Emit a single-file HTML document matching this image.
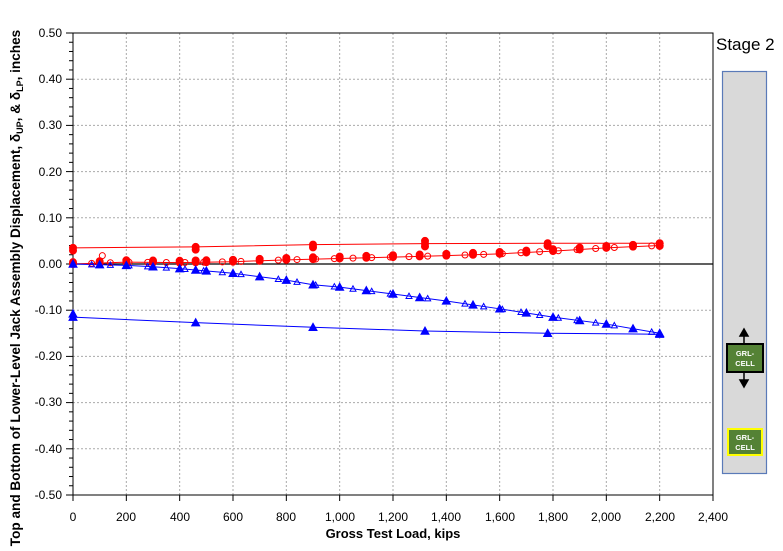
<!DOCTYPE html>
<html><head><meta charset="utf-8"><style>
body{margin:0;background:#fff;}
svg{display:block;font-family:"Liberation Sans",Arial,sans-serif;}
</style></head><body>
<svg id="s" width="783" height="551" viewBox="0 0 783 551" xmlns="http://www.w3.org/2000/svg">
<rect width="783" height="551" fill="#fff"/>
<g id="grid" stroke="#aaa" stroke-dasharray="2,2" stroke-width="1"></g>
<rect x="73" y="33" width="640" height="462" fill="none" stroke="#000"/>
<line x1="73" y1="264" x2="713" y2="264" stroke="#000" stroke-width="1.2"/>
<g id="ticks" stroke="#000"></g>
<g font-size="12" text-anchor="end" fill="#000">
<text x="62" y="37">0.50</text><text x="62" y="83">0.40</text><text x="62" y="129">0.30</text><text x="62" y="176">0.20</text><text x="62" y="222">0.10</text><text x="62" y="268">0.00</text><text x="62" y="314">-0.10</text><text x="62" y="360">-0.20</text><text x="62" y="406">-0.30</text><text x="62" y="453">-0.40</text><text x="62" y="499">-0.50</text>
</g>
<g font-size="12" text-anchor="middle" fill="#000">
<text x="73" y="521">0</text><text x="126" y="521">200</text><text x="180" y="521">400</text><text x="233" y="521">600</text><text x="286" y="521">800</text><text x="340" y="521">1,000</text><text x="393" y="521">1,200</text><text x="446" y="521">1,400</text><text x="500" y="521">1,600</text><text x="553" y="521">1,800</text><text x="606" y="521">2,000</text><text x="660" y="521">2,200</text><text x="713" y="521">2,400</text>
</g>
<text x="393" y="538" font-size="13" font-weight="bold" text-anchor="middle">Gross Test Load, kips</text>
<text transform="translate(20,288) rotate(-90)" font-size="13.6" font-weight="bold" text-anchor="middle">Top and Bottom of Lower-Level Jack Assembly Displacement, δ<tspan font-size="9" dy="3">UP</tspan><tspan dy="-3">, &amp; δ</tspan><tspan font-size="9" dy="3">LP</tspan><tspan dy="-3">, inches</tspan></text>
<g id="data"></g>
<text x="716" y="50" font-size="17">Stage 2</text>
<rect x="722.5" y="71.5" width="44" height="402" fill="#d9d9d9" stroke="#5a7ab8" stroke-width="1.2"/>
<rect x="727" y="344" width="36" height="28" fill="#548235" stroke="#000" stroke-width="2"/>
<text x="745" y="356" font-size="7.5" font-weight="bold" fill="#fff" text-anchor="middle">GRL-</text>
<text x="745" y="366" font-size="7.5" font-weight="bold" fill="#fff" text-anchor="middle">CELL</text>
<path d="M744 343V334M740 336L744 329L748 336Z" stroke="#000" fill="#000" stroke-width="1.5"/>
<path d="M744 373V382M740 380L744 387L748 380Z" stroke="#000" fill="#000" stroke-width="1.5"/>
<rect x="728" y="429" width="34" height="26" fill="#548235" stroke="#ffff00" stroke-width="2"/>
<text x="745" y="440" font-size="7.5" font-weight="bold" fill="#fff" text-anchor="middle">GRL-</text>
<text x="745" y="450" font-size="7.5" font-weight="bold" fill="#fff" text-anchor="middle">CELL</text>
</svg>
<script>
var NS="http://www.w3.org/2000/svg";
function X(v){return 73+v*640/2400}function Y(d){return 264-d*462}
function el(p,t,a){var e=document.createElementNS(NS,t);for(var k in a)e.setAttribute(k,a[k]);p.appendChild(e);return e}
var g=document.getElementById('grid'),tk=document.getElementById('ticks'),D=document.getElementById('data');
for(var i=1;i<12;i++){el(g,'line',{x1:X(i*200),y1:33,x2:X(i*200),y2:495});}
for(var j=0;j<=10;j++){var y=33+j*46.2;if(j!=5&&j>0&&j<10)el(g,'line',{x1:73,y1:y,x2:713,y2:y});}
for(var j=0;j<=50;j++){var y=33+j*9.24;el(tk,'line',{x1:73,y1:y,x2:j%5?69:66,y2:y});}
for(var i=0;i<=12;i++){el(tk,'line',{x1:X(i*200),y1:495,x2:X(i*200),y2:501});}
function interp(pts,x){for(var i=0;i<pts.length-1;i++){if(x>=pts[i][0]&&x<=pts[i+1][0]){var t=(x-pts[i][0])/(pts[i+1][0]-pts[i][0]);return pts[i][1]+t*(pts[i+1][1]-pts[i][1]);}}return pts[pts.length-1][1]}
function line(pts,c){el(D,'polyline',{points:pts.map(function(p){return X(p[0])+','+Y(p[1])}).join(' '),fill:'none',stroke:c,'stroke-width':1});}
var rLow=[[0,0],[200,0.004],[400,0.003],[600,0.005],[800,0.009],[1000,0.012],[1200,0.015],[1400,0.018],[1600,0.022],[1800,0.028],[2000,0.035],[2200,0.04]];
var rUp=[[0,0.035],[460,0.037],[900,0.042],[1320,0.044],[1780,0.045],[2200,0.045]];
var bLow=[[0,0],[200,-0.003],[300,-0.006],[400,-0.01],[600,-0.02],[800,-0.035],[900,-0.045],[1000,-0.05],[1200,-0.065],[1400,-0.08],[1600,-0.097],[1800,-0.115],[2000,-0.13],[2200,-0.15]];
var bUp=[[0,-0.115],[460,-0.127],[900,-0.137],[1320,-0.145],[1780,-0.15],[2200,-0.152]];
line(rLow,'#f00');line(rUp,'#f00');line(bLow,'#00f');line(bUp,'#00f');
function circ(x,d,f){el(D,'circle',{cx:X(x),cy:Y(d),r:f?3.5:3,fill:f?'#f00':'none',stroke:'#f00','stroke-width':1});}
function tri(x,d,f){var cx=X(x),cy=Y(d),s=f?4:3;el(D,'path',{d:'M'+cx+' '+(cy-s)+'L'+(cx+s)+' '+(cy+s*0.8)+'L'+(cx-s)+' '+(cy+s*0.8)+'Z',fill:f?'#00f':'none',stroke:'#00f','stroke-width':1});}
var fx=[0,100,200,300,400,460,500,600,700,800,900,1000,1100,1200,1300,1400,1500,1600,1700,1800,1900,2000,2100,2200];
for(var x=0;x<=2200;x+=70){circ(x,interp(rLow,x),false);tri(x,interp(bLow,x),false);}
circ(110,0.018,false);
fx.forEach(function(x){circ(x,interp(rLow,x),true);circ(x,interp(rLow,x)+0.004,true);tri(x,interp(bLow,x),true);});
[0,460,900,1320,1780,2200].forEach(function(x){circ(x,interp(rUp,x),true);circ(x,interp(rUp,x)-0.006,true);tri(x,interp(bUp,x),true);});
circ(1320,0.05,true);circ(1780,0.04,true);tri(0,-0.108,true);
</script>
</body></html>
